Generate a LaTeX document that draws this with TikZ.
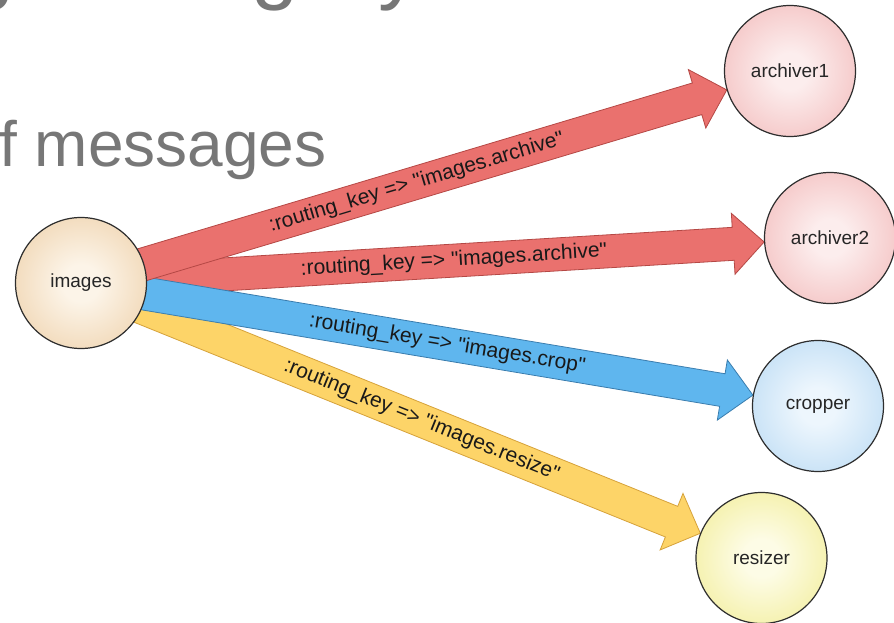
\documentclass[tikz,border=0pt]{standalone}
\usepackage{fontspec}
\setmainfont{Liberation Sans}[Ligatures=TeXOff]
\usetikzlibrary{calc}

\pgfdeclarelayer{paper}
\pgfdeclarelayer{arrowlayer}
\pgfsetlayers{paper,arrowlayer,main}

% node colours: light centre, saturated rim
\definecolor{tanin}{HTML}{FCF4E8}   \definecolor{tanout}{HTML}{E6BC86}
\definecolor{pinkin}{HTML}{FCEDED}  \definecolor{pinkout}{HTML}{ED9E9E}
\definecolor{bluein}{HTML}{EDF6FD}  \definecolor{blueout}{HTML}{9CCAEE}
\definecolor{yelin}{HTML}{FDFCE6}   \definecolor{yelout}{HTML}{EBE46A}
% arrow colours
\definecolor{redfill}{HTML}{EA716E} \definecolor{redline}{HTML}{B54845}
\definecolor{bluefill}{HTML}{5FB6EE}\definecolor{blueline}{HTML}{3A7DAE}
\definecolor{yelfill}{HTML}{FDD468} \definecolor{yelline}{HTML}{D6A23A}
\definecolor{slidegray}{HTML}{777777}
\definecolor{orbline}{HTML}{2E2E2E}

\pgfdeclareradialshading{orbtan}{\pgfpoint{0bp}{0bp}}{color(0bp)=(tanin); color(7bp)=(tanin); color(50bp)=(tanout)}
\pgfdeclareradialshading{orbpink}{\pgfpoint{0bp}{0bp}}{color(0bp)=(pinkin); color(7bp)=(pinkin); color(50bp)=(pinkout)}
\pgfdeclareradialshading{orbblue}{\pgfpoint{0bp}{0bp}}{color(0bp)=(bluein); color(7bp)=(bluein); color(50bp)=(blueout)}
\pgfdeclareradialshading{orbyel}{\pgfpoint{0bp}{0bp}}{color(0bp)=(yelin); color(7bp)=(yelin); color(50bp)=(yelout)}

\tikzset{
  orbnode/.style={circle, draw=orbline, line width=1.2pt, minimum size=131pt,
    inner sep=0pt, shade, shading=#1, font=\fontsize{19}{22}\selectfont, text=black!85},
  keylabel/.style={font=\fontsize{21}{24}\selectfont, text=black!90, inner sep=0pt},
  slidetext/.style={font=\fontsize{64}{72}\selectfont, text=slidegray, inner sep=0pt},
  titletext/.style={font=\fontsize{85}{95}\selectfont, text=slidegray, inner sep=0pt},
}

% block arrow from the centre of (images) to the rim of #1
% #1 target node, #2 fill, #3 outline, #4 label position, #5 label
\newcommand\flowarrow[5]{%
  \coordinate (fs) at (images.center);
  \coordinate (ft) at ($(#1.center)!66pt!(images.center)$);
  \coordinate (fh) at ($(ft)!31pt!(fs)$);
  \filldraw[fill=#2, draw=#3, line width=0.8pt, line join=miter]
    ($(fs)!16.5pt!90:(ft)$) -- ($(fh)!16.5pt!90:(ft)$) -- ($(fh)!30.5pt!90:(ft)$)
    -- (ft) -- ($(fh)!30.5pt!-90:(ft)$) -- ($(fh)!16.5pt!-90:(ft)$)
    -- ($(fs)!16.5pt!-90:(ft)$) -- cycle;
  \path (fs) -- (ft) node[pos=#4, sloped, keylabel] {#5};
}

\begin{document}
\begin{tikzpicture}[x=1pt, y=-1pt]
  \useasboundingbox (0,0) rectangle (894,623);
  \begin{pgfonlayer}{paper}
    \fill[white] (0,0) rectangle (894,623);
  \end{pgfonlayer}
  \clip (0,0) rectangle (894,623);

  % slide heading, partly outside the frame
  \node[titletext, anchor=base west] (hd1) at (-33,-6) {g};
  \node[titletext, anchor=base west] (hd2) at (251,-6) {g};
  \node[titletext, anchor=base west] (hd3) at (378,-6) {y};
  \node[slidetext, anchor=base west] (hd4) at (-1,167) {f messages};

  % exchange and queues
  \node[orbnode=orbtan]  (images)    at (81,283)    {images};
  \node[orbnode=orbpink] (archiver1) at (790,71)    {archiver1};
  \node[orbnode=orbpink] (archiver2) at (830,238)   {archiver2};
  \node[orbnode=orbblue] (cropper)   at (818,406)   {cropper};
  \node[orbnode=orbyel]  (resizer)   at (761.5,558) {resizer};

  \begin{pgfonlayer}{arrowlayer}
    \flowarrow{archiver2}{redfill}{redline}{0.546}{:routing\_key => "images.archive"}
    \flowarrow{resizer}{yelfill}{yelline}{0.55}{:routing\_key => "images.resize"}
    \flowarrow{cropper}{bluefill}{blueline}{0.545}{:routing\_key => "images.crop"}
    \flowarrow{archiver1}{redfill}{redline}{0.52}{:routing\_key => "images.archive"}
  \end{pgfonlayer}
\end{tikzpicture}
\end{document}
